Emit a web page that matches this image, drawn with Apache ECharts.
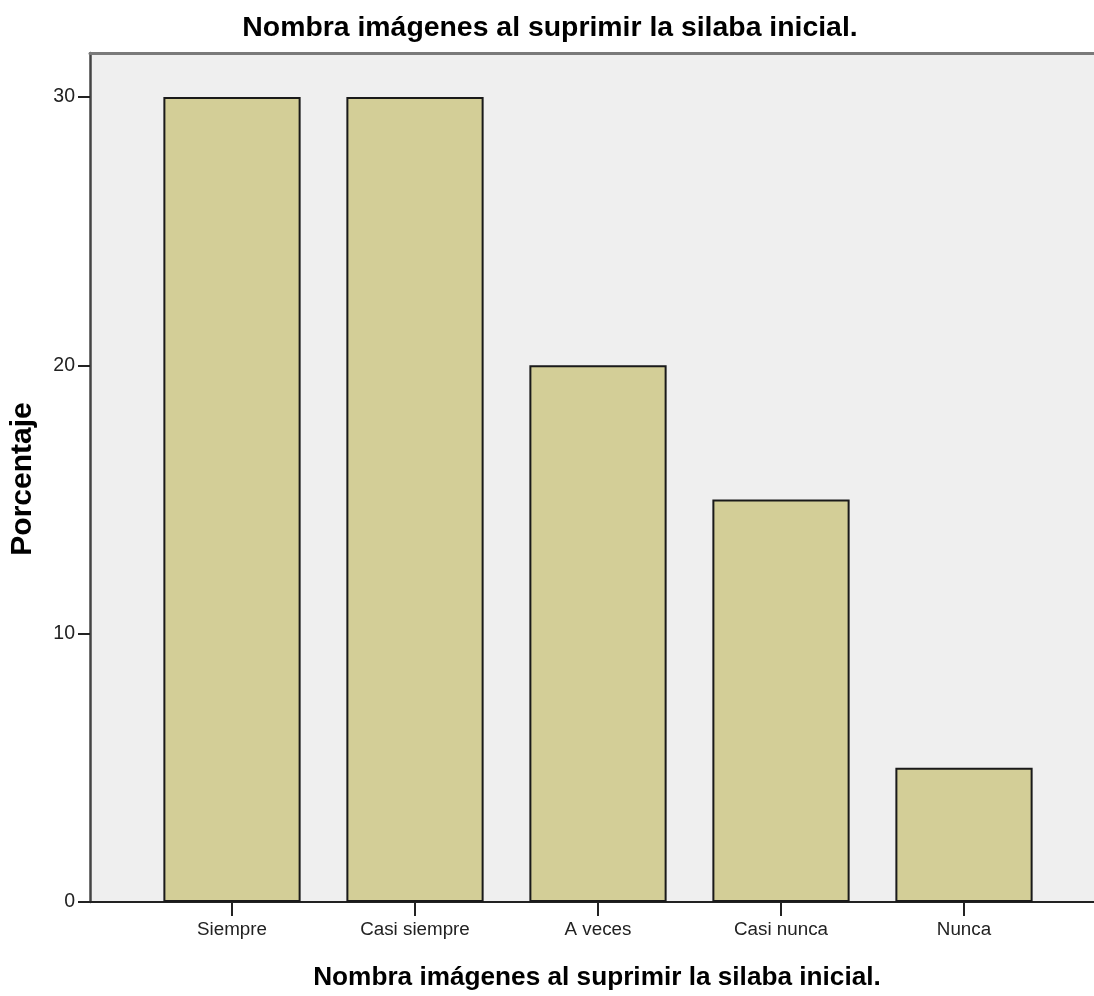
<!DOCTYPE html>
<html><head><meta charset="utf-8">
<script src="https://cdn.jsdelivr.net/npm/echarts@6/dist/echarts.min.js"></script>
<style>html,body{margin:0;padding:0;background:#fff}#c{width:1094px;height:996px}</style>
</head><body><div id="c"></div>
<script>
const categories = ['Siempre', 'Casi siempre', 'A veces', 'Casi nunca', 'Nunca'];
const values = [30, 30, 20, 15, 5];
const yTicks = [0, 10, 20, 30];
const titleText = 'Nombra imágenes al suprimir la silaba inicial.';
const yTitle = 'Porcentaje';

const sans = '"Liberation Sans", Arial, sans-serif';
const yMax = 31.64;
const chart = echarts.init(document.getElementById('c'), null, {renderer: 'canvas'});
chart.setOption({
  animation: false,
  backgroundColor: '#ffffff',
  graphic: [
    {type: 'text', x: 550, y: 28, style: {text: titleText, fontFamily: sans, fontWeight: 'bold', fontSize: 28.4, fill: '#000', textAlign: 'center', textVerticalAlign: 'middle'}},
    {type: 'text', x: 597, y: 978, style: {text: titleText, fontFamily: sans, fontWeight: 'bold', fontSize: 26.2, fill: '#000', textAlign: 'center', textVerticalAlign: 'middle'}},
    {type: 'text', x: 23, y: 479, rotation: Math.PI / 2, style: {text: yTitle, fontFamily: sans, fontWeight: 'bold', fontSize: 30, fill: '#000', textAlign: 'center', textVerticalAlign: 'middle'}}
  ],
  grid: [
    {left: 90, right: 0, top: 53, bottom: 94, show: true, backgroundColor: '#efefef', borderWidth: 0},
    {left: 140.5, width: 915, top: 53, bottom: 94}
  ],
  xAxis: [
    {type: 'value', gridIndex: 0, min: 0, max: 1, axisLabel: {show: false}, axisTick: {show: false}, splitLine: {show: false},
     axisLine: {show: true, lineStyle: {color: '#222', width: 2}}},
    {type: 'value', gridIndex: 0, position: 'top', min: 0, max: 1, axisLabel: {show: false}, axisTick: {show: false}, splitLine: {show: false},
     axisLine: {show: true, lineStyle: {color: '#7a7a7a', width: 3}}},
    {type: 'category', gridIndex: 1, data: categories, boundaryGap: true,
     axisLine: {show: false}, splitLine: {show: false},
     axisTick: {show: true, alignWithLabel: true, length: 14, lineStyle: {color: '#222', width: 2}},
     axisLabel: {margin: 18, fontFamily: sans, fontSize: 18.8, color: '#222'}}
  ],
  yAxis: [
    {type: 'value', gridIndex: 0, min: 0, max: yMax,
     axisLine: {show: true, lineStyle: {color: '#444', width: 2.5}},
     axisTick: {show: true, customValues: yTicks, length: 12, lineStyle: {color: '#222', width: 2}},
     axisLabel: {margin: 15, customValues: yTicks, fontFamily: sans, fontSize: 19.5, color: '#222'},
     splitLine: {show: false}},
    {type: 'value', gridIndex: 1, min: 0, max: yMax, show: false}
  ],
  series: [{
    type: 'bar', xAxisIndex: 2, yAxisIndex: 1, data: values, barWidth: '75%',
    itemStyle: {color: '#d3ce97', borderColor: '#1a1a1a', borderWidth: 2}
  }]
});
</script></body></html>
